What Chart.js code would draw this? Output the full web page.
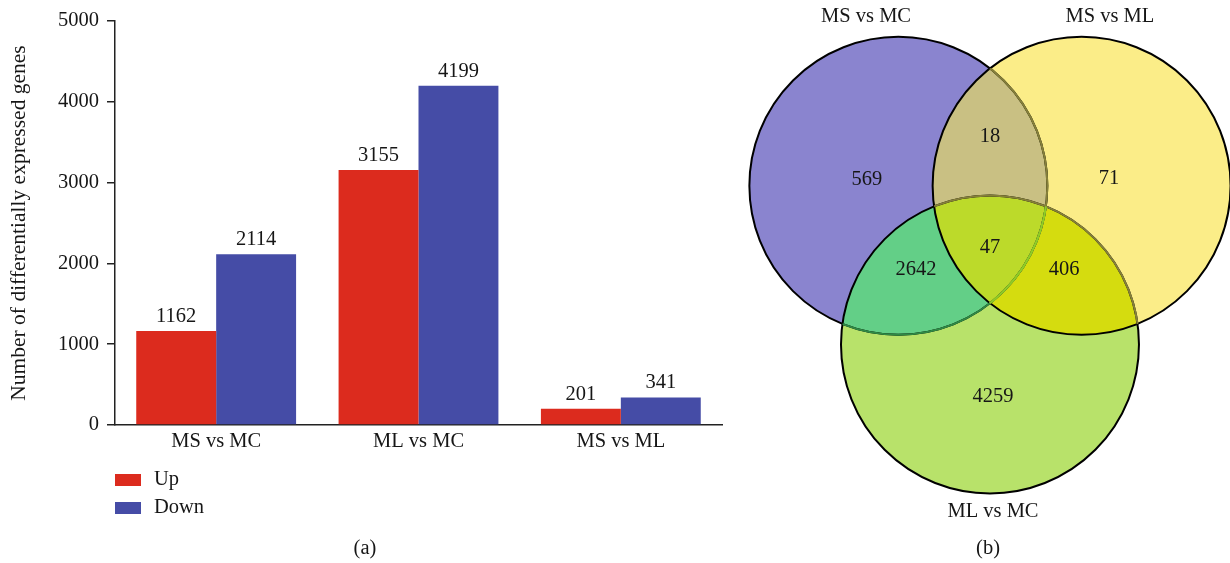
<!DOCTYPE html>
<html>
<head>
<meta charset="utf-8">
<script src="https://cdn.jsdelivr.net/npm/chart.js@4.4.1/dist/chart.umd.min.js"></script>
<style>
  html, body { margin: 0; padding: 0; background: #ffffff; }
  #wrap { position: relative; width: 1230px; height: 563px; overflow: hidden; }
  #bars { position: absolute; left: 0; top: 0; }
  #venn { position: absolute; left: 730px; top: 0; }
</style>
</head>
<body>
<div id="wrap">
  <canvas id="bars" width="730" height="563"></canvas>
  <canvas id="venn" width="500" height="563"></canvas>
</div>
<script>
// ---- (a) differentially expressed genes per comparison ----
const comparisons = ['MS vs MC', 'ML vs MC', 'MS vs ML'];
const upCounts = [1162, 3155, 201];
const downCounts = [2114, 4199, 341];
const seriesNames = ['Up', 'Down'];
const seriesColors = ['#dc2b1e', '#454ca6'];
const yTickMax = 5000;
const yTickStep = 1000;
const yAxisTitle = 'Number of differentially expressed genes';

// ---- (b) overlap of the three comparisons ----
const vennSetNames = ['MS vs MC', 'MS vs ML', 'ML vs MC'];          // sets A, B, C
const vennRegionKeys = ['A', 'B', 'C', 'AB', 'AC', 'BC', 'ABC'];
const vennRegionCounts = [569, 71, 4259, 18, 2642, 406, 47];

// drawing constants
const FONT = "'Liberation Serif', 'DejaVu Serif', serif";
const FS = 20.5;
const INK = '#161616';
const vennFill = {
  A: '#8a84cf', B: '#fbed88', C: '#b8e26a',
  AB: '#c9c083', AC: '#63cf87', BC: '#d5dc0f', ABC: '#bcda2a'
};
// unit-circle Venn layout: set centres on a triangle around the origin
const vennCentres = { A: [-0.615, 0.355], B: [0.615, 0.355], C: [0.0, -0.71] };
const vennRadius = 1;
const vennCountSpots = {
  A: [-0.826, 0.394], B: [0.799, 0.401], C: [0.02, -1.062],
  AB: [0.0, 0.683], AC: [-0.497, -0.21], BC: [0.497, -0.21], ABC: [0.0, -0.062]
};
const vennNameSpots = [[-0.832, 1.49], [0.805, 1.49], [0.02, -1.835]];

Chart.defaults.font.family = FONT;
Chart.defaults.color = INK;

// value labels above each bar
const barValueLabels = {
  id: 'barValueLabels',
  afterDatasetsDraw(chart) {
    const ctx = chart.ctx;
    ctx.save();
    ctx.font = FS + 'px ' + FONT;
    ctx.fillStyle = INK;
    ctx.textAlign = 'center';
    ctx.textBaseline = 'alphabetic';
    chart.data.datasets.forEach((ds, i) => {
      chart.getDatasetMeta(i).data.forEach((el, j) => {
        ctx.fillText(String(ds.data[j]), el.x, el.y - 9);
      });
    });
    ctx.restore();
  }
};

// stacked legend under the axis plus the panel caption
const stackedLegend = {
  id: 'stackedLegend',
  afterDraw(chart, args, opts) {
    const ctx = chart.ctx;
    const left = chart.chartArea.left;
    ctx.save();
    ctx.font = FS + 'px ' + FONT;
    ctx.textBaseline = 'middle';
    ctx.textAlign = 'left';
    chart.data.datasets.forEach((ds, i) => {
      const cy = 480 + i * 28;
      ctx.fillStyle = ds.backgroundColor;
      ctx.fillRect(left, cy - 6, 26, 12);
      ctx.fillStyle = INK;
      ctx.fillText(ds.label, left + 39, cy);
    });
    ctx.textAlign = 'center';
    ctx.fillText(opts.caption, chart.width / 2, 549);
    ctx.restore();
  }
};

new Chart(document.getElementById('bars'), {
  type: 'bar',
  data: {
    labels: comparisons,
    datasets: [
      { label: seriesNames[0], data: upCounts, backgroundColor: seriesColors[0] },
      { label: seriesNames[1], data: downCounts, backgroundColor: seriesColors[1] }
    ]
  },
  options: {
    responsive: false,
    animation: false,
    devicePixelRatio: 1,
    layout: { padding: { top: 21, right: 8, bottom: 98, left: 0 } },
    datasets: { bar: { categoryPercentage: 0.79, barPercentage: 1.0 } },
    plugins: {
      legend: { display: false },
      tooltip: { enabled: false },
      stackedLegend: { caption: '(a)' }
    },
    scales: {
      x: {
        grid: { display: false, drawTicks: false },
        border: { display: true, color: '#222', width: 1.5 },
        ticks: { font: { size: FS }, color: INK, padding: 4 },
        afterFit(scale) { scale.height = 40; }
      },
      y: {
        min: 0,
        max: yTickMax,
        ticks: { stepSize: yTickStep, font: { size: FS }, color: INK, padding: 8, callback: (v) => String(v) },
        grid: { display: true, drawOnChartArea: false, drawTicks: true, tickLength: 8, color: '#222', lineWidth: 1.5 },
        border: { display: true, color: '#222', width: 1.5 },
        title: { display: true, text: yAxisTitle, font: { size: 21.5 }, color: INK, padding: { top: 6, bottom: 4 } },
        afterFit(scale) { scale.width = 115; }
      }
    }
  },
  plugins: [barValueLabels, stackedLegend]
});

// Venn diagram drawn on a hidden linear x/y scale pair
const vennDiagram = {
  id: 'vennDiagram',
  beforeDatasetsDraw(chart) {
    const ctx = chart.ctx;
    const xs = chart.scales.x, ys = chart.scales.y;
    const px = (p) => [xs.getPixelForValue(p[0]), ys.getPixelForValue(p[1])];
    const rad = Math.abs(xs.getPixelForValue(vennRadius) - xs.getPixelForValue(0));
    const circle = (k) => {
      const c = px(vennCentres[k]);
      ctx.beginPath();
      ctx.arc(c[0], c[1], rad, 0, Math.PI * 2);
      ctx.closePath();
    };
    const fillWithin = (keys, color) => {
      ctx.save();
      keys.forEach((k) => { circle(k); ctx.clip(); });
      ctx.fillStyle = color;
      ctx.fillRect(0, 0, chart.width, chart.height);
      ctx.restore();
    };
    const strokeWithin = (clipKeys, k, color) => {
      ctx.save();
      clipKeys.forEach((c) => { circle(c); ctx.clip(); });
      circle(k);
      ctx.strokeStyle = color;
      ctx.lineWidth = 2;
      ctx.stroke();
      ctx.restore();
    };

    // region fills
    ['A', 'B', 'C'].forEach((k) => fillWithin([k], vennFill[k]));
    fillWithin(['A', 'B'], vennFill.AB);
    fillWithin(['A', 'C'], vennFill.AC);
    fillWithin(['B', 'C'], vennFill.BC);
    fillWithin(['A', 'B', 'C'], vennFill.ABC);

    // outlines
    ['A', 'C', 'B'].forEach((k) => {
      circle(k);
      ctx.strokeStyle = '#000';
      ctx.lineWidth = 2;
      ctx.stroke();
    });
    // outline segments seen through the translucent overlaps
    strokeWithin(['C'], 'A', '#2f8a45');
    strokeWithin(['B'], 'A', '#86803a');
    strokeWithin(['B'], 'C', '#86803a');
    strokeWithin(['B', 'C'], 'A', '#8fcf24');

    // counts and set names
    ctx.save();
    ctx.fillStyle = INK;
    ctx.textAlign = 'center';
    ctx.textBaseline = 'middle';
    ctx.font = FS + 'px ' + FONT;
    vennRegionKeys.forEach((k, i) => {
      const p = px(vennCountSpots[k]);
      ctx.fillText(String(vennRegionCounts[i]), p[0], p[1]);
    });
    vennSetNames.forEach((name, i) => {
      const p = px(vennNameSpots[i]);
      ctx.fillText(name, p[0], p[1]);
    });
    const cap = px([-0.013, -2.083]);
    ctx.fillText('(b)', cap[0], cap[1]);
    ctx.restore();
  }
};

new Chart(document.getElementById('venn'), {
  type: 'scatter',
  data: { datasets: [{ data: [], pointRadius: 0 }] },
  options: {
    responsive: false,
    animation: false,
    devicePixelRatio: 1,
    layout: { padding: 0 },
    plugins: { legend: { display: false }, tooltip: { enabled: false } },
    scales: {
      x: { type: 'linear', min: -1.745, max: 1.611, display: false },
      y: { type: 'linear', min: -2.177, max: 1.602, display: false }
    }
  },
  plugins: [vennDiagram]
});
</script>
</body>
</html>
